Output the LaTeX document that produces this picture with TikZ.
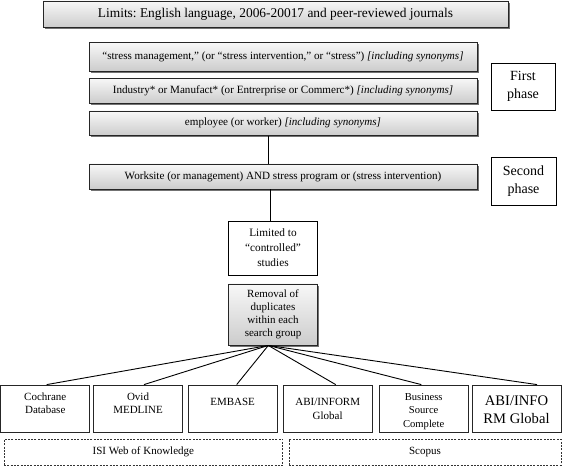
\documentclass[tikz,border=0pt]{standalone}
\usepackage{fontspec}
\setmainfont{Liberation Serif}
\usetikzlibrary{shadows,calc}
\frenchspacing
\tikzset{
  gbox/.style={draw=black!85, line width=0.9pt, inner sep=0pt, align=center,
    top color=gray!6, bottom color=gray!40,
    drop shadow={shadow xshift=1.6pt, shadow yshift=-1.6pt, opacity=0.55, fill=black}},
  wbox/.style={draw=black, line width=0.9pt, fill=white, inner sep=0pt, align=center},
  dbbox/.style={draw=black!85, line width=0.9pt, fill=white, inner sep=0pt},
  dashbox/.style={draw=black!80, line width=0.7pt, dash pattern=on 2pt off 1.3pt, inner sep=0pt, align=center},
  conn/.style={line width=0.9pt, draw=black},
  qtext/.style={font=\fontsize{11.1}{13}\selectfont},
}
\newcommand{\dbtext}[3]{\parbox[c][47.3pt][t]{89pt}{\centering\fontsize{#1}{#2}\selectfont #3}}
\begin{document}
\begin{tikzpicture}[x=1pt,y=1pt]
\useasboundingbox (0,0) rectangle (562,466);
% top limits box
\node[gbox, minimum width=465pt, minimum height=26.5pt, font=\fontsize{13.4}{16}\selectfont\frenchspacing] (top) at (275.5,451.75)
  {Limits: English language, 2006-20017 and peer-reviewed journals};
% first phase boxes
\node[gbox, qtext, minimum width=388pt, minimum height=28.3pt] (b1) at (283,409.15)
  {“stress management,” (or “stress intervention,” or “stress”) \textit{[including synonyms]}};
\node[gbox, qtext, minimum width=388pt, minimum height=24.7pt] (b2) at (283,375.35)
  {Industry* or Manufact* (or Entrerprise or Commerc*) \textit{[including synonyms]}};
\node[gbox, qtext, minimum width=388pt, minimum height=24.7pt] (b3) at (283,342.65)
  {employee (or worker) \textit{[including synonyms]}};
\node[gbox, qtext, minimum width=388pt, minimum height=25pt] (b4) at (283,289.5)
  {Worksite (or management) AND stress program or (stress intervention)};
% phase labels
\node[wbox, minimum width=64pt, minimum height=47pt, font=\fontsize{14}{18.3}\selectfont] (p1) at (523,379.5) {First\\phase};
\node[wbox, minimum width=65pt, minimum height=47.7pt, font=\fontsize{14}{18.3}\selectfont] (p2) at (523.5,284.85) {Second\\phase};
% limited and removal
\node[wbox, minimum width=89.5pt, minimum height=54pt, font=\fontsize{11.3}{15}\selectfont] (lim) at (273,218)
  {Limited to\\“controlled”\\studies};
\node[gbox, minimum width=89pt, minimum height=61pt, font=\fontsize{11}{13}\selectfont] (rm) at (273,151.5)
  {Removal of\\duplicates\\within each\\search group};
% databases
\node[dbbox] (d1) at (45.25,57.3) {\dbtext{11}{13.4}{\rule{0pt}{15pt}Cochrane\\Database}};
\node[dbbox] (d2) at (138,57.3) {\dbtext{11}{13.4}{\rule{0pt}{15pt}Ovid\\MEDLINE}};
\node[dbbox] (d3) at (232.65,57.3) {\dbtext{11}{13.4}{\rule{0pt}{20pt}EMBASE}};
\node[dbbox] (d4) at (327.7,57.3) {\dbtext{11}{14.3}{\rule{0pt}{20pt}ABI/INFORM\\Global}};
\node[dbbox] (d5) at (423.7,57.3) {\dbtext{10.6}{13.6}{\rule{0pt}{15pt}Business\\Source\\Complete}};
\node[dbbox] (d6) at (516.5,57.3) {\dbtext{14.6}{18.3}{\rule{0pt}{20pt}ABI/INFO\\RM Global}};
% groups
\node[dashbox, minimum width=278.7pt, minimum height=26pt, font=\fontsize{11}{13}\selectfont] (isi) at (143.35,13.7) {ISI Web of Knowledge};
\node[dashbox, minimum width=272pt, minimum height=26pt, font=\fontsize{11}{13}\selectfont] (sco) at (425,13.7) {Scopus};
% connectors
\draw[conn] ($(b3.south)+(-14.3,0)$) -- ($(b4.north)+(-14.3,0)$);
\draw[conn] ($(b4.south)+(-13,0)$) -- ($(lim.north)+(-3,0)$);
\coordinate (hub) at ($(rm.south)+(-4.7,0)$);
\draw[conn] (hub) -- ($(d1.north)+(1.45,0)$);
\draw[conn] (hub) -- ($(d2.north)+(6,0)$);
\draw[conn] (hub) -- ($(d3.north)+(4,0)$);
\draw[conn] (hub) -- ($(d4.north)+(8,0)$);
\draw[conn] (hub) -- ($(d5.north)+(-2.4,0)$);
\draw[conn] (hub) -- ($(d6.north)+(20.5,0)$);
\end{tikzpicture}
\end{document}
